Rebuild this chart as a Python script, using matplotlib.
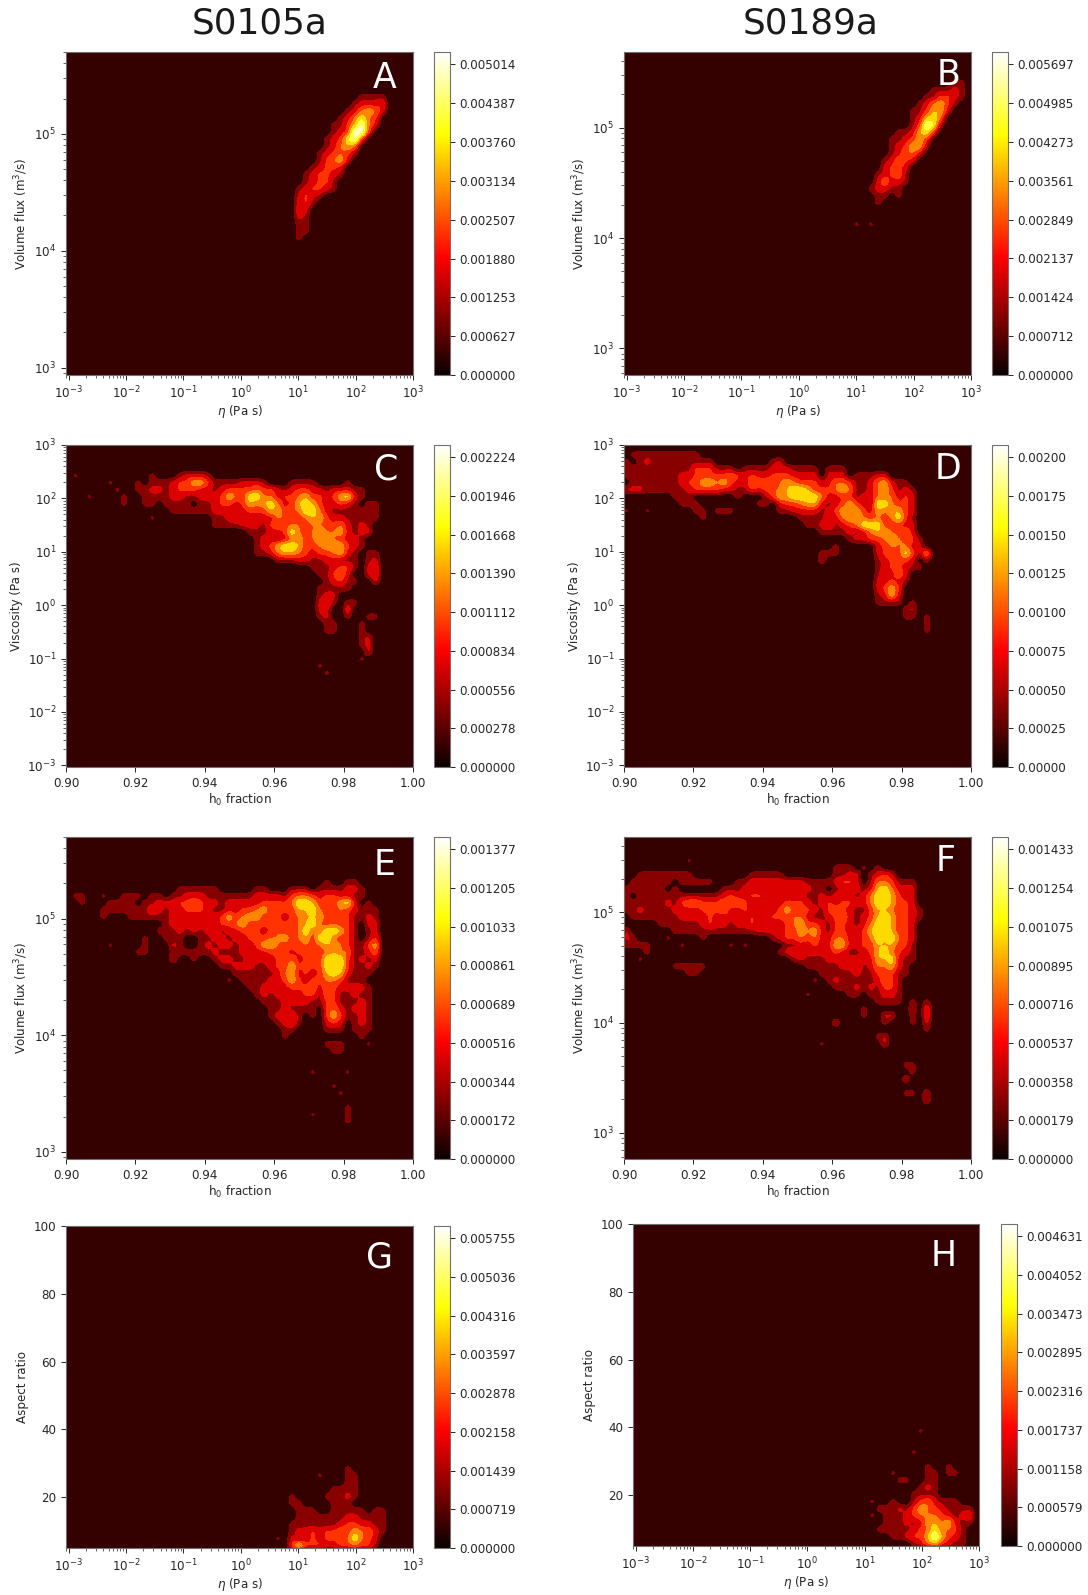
import numpy as np
import matplotlib
matplotlib.use("Agg")
import matplotlib.pyplot as plt
from matplotlib.cm import ScalarMappable
from matplotlib.colors import Normalize
from matplotlib.ticker import LogLocator, NullFormatter

W, H = 1088, 1595
N_ROWS, N_COLS = 46, 50

# density cells: (row, first column, band of each cell)
# row 0 is the top of the panel, band 0 is the background
cells_a = [
    (6, 42, "1111"), (7, 41, "12223"), (8, 40, "124542"), (9, 39, "124643"),
    (10, 38, "1135742"), (11, 38, "123773"), (12, 37, "123673"), (13, 37, "12454"),
    (14, 36, "123431"), (15, 36, "13452"), (16, 35, "12332"), (17, 34, "123321"),
    (18, 34, "12331"), (19, 33, "123321"), (20, 33, "2321"), (21, 33, "231"),
    (22, 33, "32"), (23, 33, "21"), (24, 33, "11"), (25, 33, "11"), (26, 33, "1"),
]
cells_b = [
    (4, 47, "11"), (5, 44, "11121"), (6, 43, "113321"), (7, 42, "124531"),
    (8, 41, "113552"), (9, 41, "12564"), (10, 41, "13761"), (11, 39, "112563"),
    (12, 38, "112353"), (13, 38, "123551"), (14, 38, "12442"), (15, 37, "12432"),
    (16, 37, "2332"), (17, 36, "12341"), (18, 36, "24221"), (19, 35, "12211"),
    (20, 36, "1101"), (21, 36, "1"), (24, 33, "101"),
]
cells_c = [
    (4, 0, "010000000000100012221"),
    (5, 0, "000000 1 000 1 0 111 2335531 111 222 1 000 1111 0000 1"),
    (6, 0, "0000000100 11221 2333221233 3343321233 22122211"),
    (7, 0, "0001000010 01111 2211222354 3664423345 33235621"),
    (8, 0, "0000000010 01101 1110112332 3545642356 5322321011"),
    (9, 15, "1111112222 2333553446 6421111111"),
    (10, 12, "1"), (10, 21, "1123 2222244334 5532211111"),
    (11, 21, "1111 2221343443 443342121"),
    (12, 26, "111223643 454452122"),
    (13, 27, "12212453 45543221"),
    (14, 27, "12356653 34555321"),
    (15, 27, "11245543 2334521011"),
    (16, 30, "11122 1122111012"),
    (17, 35, "1112331023"),
    (18, 36, "113420023"),
    (19, 37, "12311002"),
    (20, 36, "11111"), (21, 36, "122"), (22, 36, "231011"), (23, 36, "22003"),
    (24, 36, "120010011"), (25, 37, "110001"), (26, 37, "110001"),
    (27, 42, "12"), (28, 42, "12"), (29, 43, "2"), (30, 42, "1"),
    (31, 36, "1"), (32, 37, "1"),
]
cells_d = [
    (1, 1, "1111111111"),
    (2, 0, "10 1211111 1111 00000000 12"),
    (3, 0, "11111111 11 333 111 0 1111 222 1111 0 111"),
    (4, 0, "1111111 1 22 33333 4 3 2 3 22333 2222 0 222 0 11 122"),
    (5, 0, "0 11111112 33 55 45 32 2444345433322443 11245211"),
    (6, 0, "222 111 111 23333221 1323445665 333454 112453121"),
    (7, 7, "111 000000 1 000 1 3556666 42233122444232"),
    (8, 8, "111 00000000 110 233455 212353 216 64332"),
    (9, 0, "1001 000000 11 0 111 000000 11 2222 1 23 555 32 545532"),
    (10, 11, "1"), (10, 25, "1111 32455434 34631"),
    (11, 26, "1123123466633322"),
    (12, 28, "11112124554342"),
    (13, 32, "12233454431"),
    (14, 30, "1 00000 2344422"),
    (15, 28, "111 00000 2343631 5"),
    (16, 28, "2 0000000 123332 01"),
    (17, 36, "1233211"), (18, 36, "13242"), (19, 36, "22321"), (20, 36, "2353"),
    (21, 36, "1252"), (22, 36, "111101"), (23, 40, "12"), (24, 40, "1101"),
    (25, 43, "1"), (26, 43, "1"),
]
cells_e = [
    (6, 37, "10011"),
    (7, 16, "111111 00000 11 000 111 0 1111221"),
    (8, 1, "11 00 1 00 111 0 11 0 1122211 1111 1 2222 1 3443 2332 211"),
    (9, 2, "1 000 1111 0 112 22334322 1 2222 2 333 3 466 5343 5620 1"),
    (10, 5, "111111 1321 2233321 1223345 3333 5564 33432111"),
    (11, 5, "1 000 11111 1 23 22222 3534553 3323 4555 33431121"),
    (12, 14, "1 22222 32 334 5 3333333 456 4343 31022"),
    (13, 13, "11121212312233323433464466531012"),
    (14, 11, "1001110011221223334453453664331013"),
    (15, 6, "1 0000 1 000 21 00 12122 12235 54343 43455 43113 5"),
    (16, 10, "11 000 111111 2 111 2222 333 2 3333 4544 1124"),
    (17, 15, "200100 12211 3 222 334 234 3 666 31212"),
    (18, 22, "11222 11233 53333 66631 121"),
    (19, 24, "111111 2452 3235 65211 1"),
    (20, 23, "101111 22353 23344 3111"),
    (21, 26, "112222 33342 4322 221"),
    (22, 27, "1212222 33143 11211"),
    (23, 28, "111 2222 11 33 111 21"),
    (24, 29, "1121111 0342 1221"),
    (25, 29, "12231 010 353 1121"),
    (26, 30, "1231 000 232 0121"),
    (27, 31, "11 0000 111 0 111"),
    (28, 31, "1"), (28, 42, "1"),
    (29, 37, "111 000 1"), (30, 38, "11"), (33, 35, "100001"),
    (35, 38, "1"), (36, 39, "1"), (38, 40, "1"), (39, 35, "100001"), (40, 40, "1"),
]
cells_f = [
    (3, 9, "1"), (4, 30, "1110101"),
    (5, 2, "111111 11 00000000 11111 0000000 1122 0 1232"),
    (6, 1, "111111 0 11111 000 11222 22222 111 1 2332 0 1 443111"),
    (7, 0, "111111 0 1 000000 111 2222 22222 2 11 0 1 222 1 2 564222"),
    (8, 0, "10 11111 1111111 232233 222222 112122212 4665322"),
    (9, 0, "111111 2 1 3 44 333 444 3 22 3 22 333 2 1 2 3 2 33 22 4 665 33 2"),
    (10, 0, "11211 11222 23334 22323 22353 33213 43211 35543 321"),
    (11, 1, "1111111 2222 3 222 3 2 3 1 2 333 44 2 11 2 3 4 2 1 2 3 565 33 2 1"),
    (12, 5, "111111 23221 223 2222 3453321 3321 2466 5332"),
    (13, 0, "2 000000 111111111111 2222 33 54521 33 22 3 56653 32"),
    (14, 0, "21 0000 1 0000 1 000000000 12 33 434 22 44 22 3 46564 32"),
    (15, 0, "1111 0000 1 000000 101 00000 11 22 3 22 55 22 33 555 33 1"),
    (16, 3, "1"), (16, 22, "123 22222 321123 564321"),
    (17, 2, "1"), (17, 24, "12111 2222222 556211"),
    (18, 7, "11111"), (18, 26, "11111 223 12 445 21"),
    (19, 9, "11"), (19, 28, "11111 2 11 333 11"),
    (20, 27, "1012 11111 2431"),
    (21, 30, "1112121331"),
    (22, 26, "1"), (22, 32, "11011221"),
    (23, 36, "1111"), (23, 41, "101"),
    (24, 34, "1"), (24, 41, "203"),
    (25, 34, "1"), (25, 37, "22"), (25, 41, "103"),
    (26, 30, "2"), (26, 37, "1"), (26, 41, "102"),
    (27, 43, "1"), (28, 36, "12"), (29, 28, "1"), (29, 37, "2"),
    (32, 40, "11"), (33, 41, "1"), (34, 40, "2"),
    (36, 40, "11"), (36, 43, "2"), (37, 43, "2"),
]
cells_g = [
    (34, 40, "1"), (35, 36, "1"), (35, 40, "11"), (36, 40, "11"),
    (37, 38, "1111"), (38, 32, "1"), (38, 37, "11121"), (39, 32, "11"), (39, 38, "111"),
    (40, 33, "111"), (40, 38, "11111"), (40, 44, "11"),
    (41, 33, "1111111 22 1111"),
    (42, 32, "1111111 2 33 22 11"),
    (43, 32, "1 223 23 34 354 4 21"),
    (44, 30, "1 0 2 1 2 3 2 3 3 3 4 6 4 3 2"),
    (45, 32, "3 6 3 3 3 2 2 3 3 4 3 3 1"),
]
cells_h = [
    (29, 41, "1"), (32, 40, "1"), (34, 42, "1"), (34, 45, "1"),
    (35, 37, "1"), (35, 42, "11"), (35, 45, "11"), (36, 38, "11"), (36, 42, "11"),
    (37, 41, "121"), (38, 40, "1111"),
    (39, 34, "1"), (39, 37, "1"), (39, 40, "1342111"),
    (40, 35, "111 2 1 3 5 4 3 2 1 1 1 1"),
    (41, 34, "1 0 1 1 1 2 3 4 4 4 3 2 1 2 3"),
    (42, 36, "1112 1 2 5 5 4 5 2 1 1"),
    (43, 35, "11111 2 3 4 6 4 4 3 1"),
    (44, 37, "112 3 3 5 7 5 3 2 1"),
    (45, 40, "1 2 4 5 3 2 1 1"),
]

# level of each band, in eighths of the colour range
band_level = [0, 1.6, 2.4, 3.2, 4.0, 4.9, 5.9, 7.6]

# colourbar tick labels
ticks_a = ["0.000000", "0.000627", "0.001253", "0.001880", "0.002507", "0.003134", "0.003760", "0.004387", "0.005014"]
ticks_b = ["0.000000", "0.000712", "0.001424", "0.002137", "0.002849", "0.003561", "0.004273", "0.004985", "0.005697"]
ticks_c = ["0.000000", "0.000278", "0.000556", "0.000834", "0.001112", "0.001390", "0.001668", "0.001946", "0.002224"]
ticks_d = ["0.00000", "0.00025", "0.00050", "0.00075", "0.00100", "0.00125", "0.00150", "0.00175", "0.00200"]
ticks_e = ["0.000000", "0.000172", "0.000344", "0.000516", "0.000689", "0.000861", "0.001033", "0.001205", "0.001377"]
ticks_f = ["0.000000", "0.000179", "0.000358", "0.000537", "0.000716", "0.000895", "0.001075", "0.001254", "0.001433"]
ticks_g = ["0.000000", "0.000719", "0.001439", "0.002158", "0.002878", "0.003597", "0.004316", "0.005036", "0.005755"]
ticks_h = ["0.000000", "0.000579", "0.001158", "0.001737", "0.002316", "0.002895", "0.003473", "0.004052", "0.004631"]

ETA = r"$\eta$ (Pa s)"
FLUX = r"Volume flux (m$^3$/s)"
H0 = r"h$_0$ fraction"
ETA_LIM = (10 ** -3.046, 1e3)
VISC_LIM = (10 ** -3.03, 1e3)

TEXT = "#262626"
SPINE = "#707070"
FS = 8.6


def to_grid(cells):
    grid = np.zeros((N_ROWS, N_COLS))
    for row, col, digits in cells:
        digits = digits.replace(" ", "")
        for i, d in enumerate(digits):
            grid[row, col + i] = band_level[int(d)]
    # refine and soften the coarse cells a little so the band edges are not square
    fine = np.kron(grid, np.ones((3, 3)))
    kernel = np.array([1, 3, 4, 3, 1]) / 12
    fine = np.apply_along_axis(lambda v: np.convolve(v, kernel, mode="same"), 0, fine)
    fine = np.apply_along_axis(lambda v: np.convolve(v, kernel, mode="same"), 1, fine)
    return fine


def make_axes(fig, x0, x1, y0, y1):
    return fig.add_axes([x0 / W, 1 - y1 / H, (x1 - x0) / W, (y1 - y0) / H])


def panel(fig, box, cbar_x, cells, tick_labels, letter, letter_xy, xlabel, ylabel, xlim, ylim, xlog, ylog):
    x0, x1, y0, y1 = box
    ax = make_axes(fig, x0, x1, y0, y1)
    ticks = [float(t) for t in tick_labels]
    top = ticks[-1] * 1.04
    z = to_grid(cells) * top / 8
    ny, nx = z.shape
    if xlog:
        xs = np.logspace(np.log10(xlim[0]), np.log10(xlim[1]), nx)
    else:
        xs = np.linspace(xlim[0], xlim[1], nx)
    if ylog:
        ys = np.logspace(np.log10(ylim[1]), np.log10(ylim[0]), ny)
    else:
        ys = np.linspace(ylim[1], ylim[0], ny)
    ax.contourf(xs, ys, z, levels=np.linspace(0, top, 9), cmap="hot", vmin=0, vmax=top)
    if xlog:
        ax.set_xscale("log")
        ax.xaxis.set_major_locator(LogLocator(base=10, numticks=12))
        ax.xaxis.set_minor_locator(LogLocator(base=10, subs=np.arange(2, 10), numticks=12))
        ax.xaxis.set_minor_formatter(NullFormatter())
    if ylog:
        ax.set_yscale("log")
        ax.yaxis.set_major_locator(LogLocator(base=10, numticks=12))
        ax.yaxis.set_minor_locator(LogLocator(base=10, subs=np.arange(2, 10), numticks=12))
        ax.yaxis.set_minor_formatter(NullFormatter())
    ax.set_xlim(xlim)
    ax.set_ylim(ylim)
    if not xlog:
        ax.set_xticks([0.90, 0.92, 0.94, 0.96, 0.98, 1.00])
        ax.set_xticklabels(["0.90", "0.92", "0.94", "0.96", "0.98", "1.00"])
    if not ylog:
        ax.set_yticks([20, 40, 60, 80, 100])
    ax.tick_params(labelsize=FS, colors=TEXT, length=3.5, width=0.7)
    ax.tick_params(which="minor", length=2, width=0.5, colors=TEXT)
    ax.set_xlabel(xlabel, fontsize=FS, color=TEXT, labelpad=1.5)
    ax.set_ylabel(ylabel, fontsize=FS, color=TEXT, labelpad=3)
    for s in ax.spines.values():
        s.set_color(SPINE)
        s.set_linewidth(0.8)

    cax = make_axes(fig, cbar_x, cbar_x + 16, y0, y1)
    sm = ScalarMappable(Normalize(0, top), cmap="hot")
    cb = fig.colorbar(sm, cax=cax, ticks=ticks)
    cb.ax.set_yticklabels(tick_labels)
    cb.ax.tick_params(labelsize=FS, colors=TEXT, length=3.5, width=0.7)
    cb.outline.set_edgecolor(SPINE)
    cb.outline.set_linewidth(0.8)

    fig.text(letter_xy[0] / W, 1 - (letter_xy[1] + 2) / H, letter, color="white", fontsize=25,
             ha="center", va="center")


fig = plt.figure(figsize=(W / 100, H / 100), dpi=100)

fig.text(260 / W, 1 - 24 / H, "S0105a", fontsize=25.8, color="#1a1a1a", ha="center", va="center")
fig.text(811 / W, 1 - 24 / H, "S0189a", fontsize=25.8, color="#1a1a1a", ha="center", va="center")

L = 66, 413
R = 624, 971
panel(fig, (*L, 52, 375), 434, cells_a, ticks_a, "A", (385, 76), ETA, FLUX, ETA_LIM, (865, 5e5), True, True)
panel(fig, (*R, 52, 375), 992, cells_b, ticks_b, "B", (949, 73), ETA, FLUX, ETA_LIM, (575, 4.85e5), True, True)
panel(fig, (*L, 445, 767), 434, cells_c, ticks_c, "C", (386, 467), H0, "Viscosity (Pa s)", (0.90, 1.00), VISC_LIM, False, True)
panel(fig, (*R, 445, 767), 992, cells_d, ticks_d, "D", (948, 467), H0, "Viscosity (Pa s)", (0.90, 1.00), VISC_LIM, False, True)
panel(fig, (*L, 837, 1159), 434, cells_e, ticks_e, "E", (385, 863), H0, FLUX, (0.90, 1.00), (870, 5e5), False, True)
panel(fig, (*R, 837, 1159), 992, cells_f, ticks_f, "F", (946, 859), H0, FLUX, (0.90, 1.00), (575, 4.85e5), False, True)
panel(fig, (*L, 1226, 1548), 434, cells_g, ticks_g, "G", (380, 1256), ETA, "Aspect ratio", ETA_LIM, (5, 100), True, False)
panel(fig, (633, 979, 1224, 1546), 1001, cells_h, ticks_h, "H", (944, 1254), ETA, "Aspect ratio", ETA_LIM, (5, 100), True, False)

fig.savefig("out.png", dpi=100)
